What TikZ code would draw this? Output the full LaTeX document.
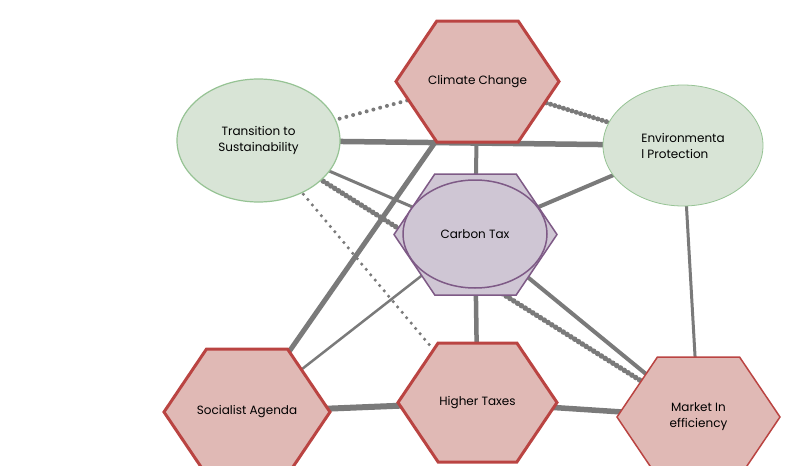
\documentclass[tikz,border=0pt]{standalone}
\usepackage{fontspec}
\setmainfont{Poppins}
\usepackage{xcolor}
\usepackage{tikz}
\usetikzlibrary{shapes,positioning,backgrounds}

\definecolor{hexred}{RGB}{186,68,66}
\definecolor{hexfill}{RGB}{224,185,181}
\definecolor{ellgreen}{RGB}{150,195,148}
\definecolor{ellfill}{RGB}{216,228,214}
\definecolor{ctline}{RGB}{126,90,134}
\definecolor{ctfill}{RGB}{207,198,212}
\definecolor{edgegray}{RGB}{122,122,122}

\begin{document}
\begin{tikzpicture}[x=1pt,y=-1pt,
    every node/.style={font=\fontsize{12}{16}\selectfont},
    hexnode/.style={shape=signal, signal to=west and east, signal pointer angle=112,
        minimum width=163pt, minimum height=121pt, inner xsep=-25pt, inner ysep=0pt, outer sep=0pt,
        fill=hexfill, draw=hexred, line width=3pt, align=center},
    ellnode/.style={ellipse, fill=ellfill, draw=ellgreen, line width=1.2pt,
        inner sep=0pt, outer sep=0pt, align=center},
    link/.style={draw=edgegray, line width=#1},
    dotlink/.style={draw=edgegray, line width=#1, line cap=round, dash pattern=on 0pt off 7pt},
    beadlink/.style={draw=edgegray, line width=#1, line cap=round, dash pattern=on 0pt off 4.5pt}
]
    \useasboundingbox (0,0) rectangle (804,466);

    % Nodes
    \node[hexnode] (cc) at (477.5,81.5) {Climate Change};
    \node[ellnode, minimum width=163pt, minimum height=123pt] (ts) at (258.5,140.5) {Transition to\\Sustainability};
    \node[ellnode, line width=0.8pt, minimum width=160pt, minimum height=121pt, align=left] (ep) at (683,145.5) {Environmenta\\l Protection};

    \node[hexnode, draw=ctline, fill=ctfill, line width=1.5pt] (cthex) at (475.5,234.5) {};
    \node[ellnode, draw=ctline, fill=ctfill, line width=1.5pt, minimum width=144pt, minimum height=108pt] (ct) at (475,234) {Carbon Tax};

    \node[hexnode, minimum width=159pt, minimum height=119pt] (ht) at (477.5,402.5) {Higher Taxes};
    \node[hexnode, minimum width=166pt, minimum height=126pt] (sa) at (247,412) {Socialist Agenda};
    \node[hexnode, line width=1.5pt, minimum height=120pt] (mi) at (698.5,417) {Market In\\efficiency};

    % Edges
    \begin{scope}[on background layer]
        \draw[link=5.5pt] (ts.center) -- (ep.center);
        \draw[link=5pt] (cc.center) -- (sa.center);
        \draw[link=4pt] (cc.center) -- (ct.center);
        \draw[link=3pt] (ts.center) -- (ct.center);
        \draw[link=4pt] (ct.center) -- (ep.center);
        \draw[link=2.5pt] (ct.center) -- (sa.center);
        \draw[link=4.5pt] (ct.center) -- (ht.center);
        \draw[link=4pt] (ct.center) -- (mi.center);
        \draw[link=3pt] (ep.center) -- (mi.center);
        \draw[link=6pt] (sa.center) -- (ht.center);
        \draw[link=5.5pt] (ht.center) -- (mi.center);

        \draw[dotlink=4pt] (ts.center) -- (cc.center);
        \draw[beadlink=5pt] (cc.center) -- (ep.center);
        \draw[beadlink=5.5pt] (ts.center) -- (mi.center);
        \draw[dotlink=3.5pt] (ts.center) -- (ht.center);
    \end{scope}
\end{tikzpicture}
\end{document}
